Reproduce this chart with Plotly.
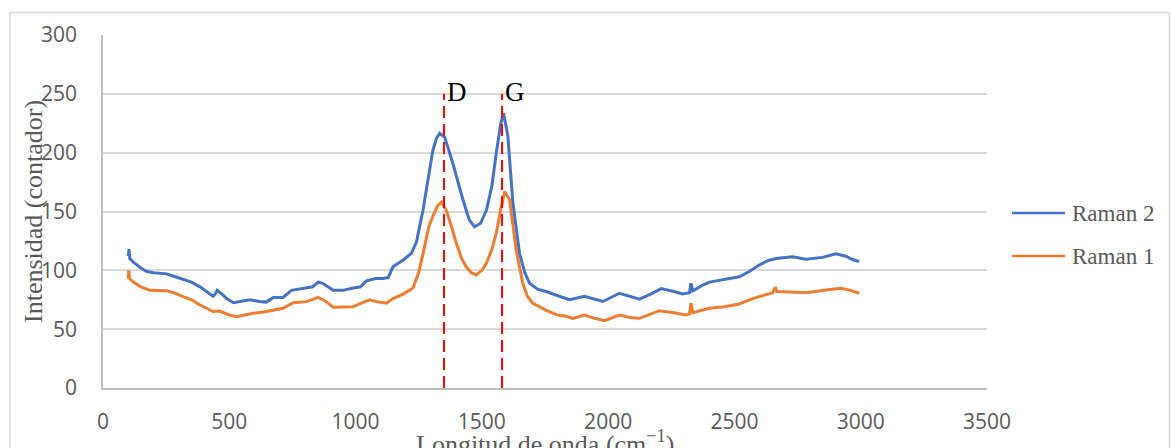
import plotly.graph_objects as go

# Raman spectra: wavenumber (cm^-1) vs. intensity (counts)
raman2_x = [100, 103, 106, 120, 150, 173, 200, 252, 280, 318, 350, 384, 410, 436, 445,
            452, 470, 490, 516, 550, 581, 620, 647, 674, 713, 746, 780, 806, 830, 852,
            870, 911, 950, 990, 1020, 1043, 1080, 1109, 1130, 1148, 1190, 1221, 1241, 1267,
            1290, 1306, 1320, 1333, 1353, 1385, 1425, 1450, 1471, 1495, 1518, 1540, 1557,
            1575, 1586, 1603, 1623, 1649, 1670, 1689, 1720, 1755, 1807, 1847, 1906, 1950,
            1979, 2045, 2085, 2124, 2170, 2210, 2260, 2295, 2322, 2328, 2335, 2370, 2401,
            2460, 2519, 2559, 2598, 2630, 2664, 2730, 2783, 2849, 2902, 2941, 2970, 2994]
raman2_y = [112, 118, 110, 107, 102, 99, 98, 97, 95, 92, 90, 86, 82, 78, 80,
            83, 80, 76, 72.5, 74, 75, 73.5, 73, 77, 77, 83, 84, 85, 86, 90,
            89, 83, 83, 85, 86, 91, 93, 93, 94, 103, 109, 114.5, 124, 151,
            182, 202, 212, 216.5, 213, 191, 160, 143, 137, 140, 151, 172, 199.5,
            225, 233.5, 214, 157, 114.5, 98, 89, 84, 82, 78, 75, 78, 75,
            73.5, 80.5, 78, 75.5, 80, 84.5, 82, 80, 81, 89, 82.5, 87, 90,
            92, 94.5, 99, 104.5, 108, 110, 111.5, 109.5, 111, 114, 112, 109, 107.5]

raman1_x = [100, 102, 105, 120, 150, 186, 252, 280, 318, 350, 384, 410, 436, 462, 500,
            529, 560, 594, 647, 713, 753, 806, 852, 880, 911, 950, 990, 1020, 1056, 1090,
            1122, 1148, 1190, 1227, 1250, 1267, 1290, 1306, 1325, 1340, 1359, 1380, 1399,
            1420, 1438, 1458, 1478, 1500, 1518, 1540, 1557, 1575, 1590, 1610, 1636, 1662,
            1680, 1702, 1755, 1800, 1834, 1860, 1906, 1950, 1985, 2045, 2085, 2124, 2160,
            2203, 2260, 2308, 2322, 2328, 2335, 2370, 2401, 2460, 2519, 2572, 2651, 2662,
            2668, 2720, 2783, 2862, 2921, 2960, 2994]
raman1_y = [93, 100, 93, 90, 86, 83, 82.7, 81, 77.6, 75, 70.5, 68, 65, 65.4, 62,
            60.6, 62, 63.5, 65, 67.7, 72.5, 73.4, 77, 74, 68.6, 69, 69, 72, 75, 73,
            72, 76, 80, 85, 98, 114, 137, 146, 155, 158, 151, 137, 123,
            110, 103, 98, 96, 100, 106, 118, 131.5, 152, 167, 160, 117, 89,
            78, 72, 66, 62, 61, 59.2, 62, 59, 57.2, 62, 60, 59.2, 62,
            65.7, 64, 62, 63, 72, 64, 66, 67.7, 69, 71.4, 76, 81, 85.6,
            82, 81.5, 81, 83.3, 84.7, 83, 80.5]

# Characteristic bands
band_x = [1350, 1580]
band_labels = ["D", "G"]
band_top = 250

series_names = ["Raman 2", "Raman 1"]
series_colors = ["#4472C4", "#ED7D31"]

W, H = 1171, 448
L, R, T, B = 103, 184, 35, 60
pw, ph = W - L - R, H - T - B


def px_to_paper_x(px):
    return (px - L) / pw


def py_to_paper_y(py):
    return (H - B - py) / ph


fig = go.Figure()
for xs, ys, name, color in zip([raman2_x, raman1_x], [raman2_y, raman1_y],
                               series_names, series_colors):
    fig.add_trace(go.Scatter(x=xs, y=ys, mode="lines", name=name,
                             line=dict(color=color, width=3), showlegend=False))

shapes = []
annotations = []

# Dashed markers for D and G bands
for bx, lab in zip(band_x, band_labels):
    shapes.append(dict(type="line", xref="x", yref="y", x0=bx, x1=bx, y0=0, y1=band_top,
                       line=dict(color="#FF0000", width=2, dash="12px,6px"), layer="above"))
    annotations.append(dict(x=bx, y=band_top, xref="x", yref="y", text=lab,
                            showarrow=False, xanchor="left", yanchor="middle", xshift=1, yshift=2,
                            font=dict(family="Liberation Serif", size=27, color="#000000")))

# Outer chart frame
shapes.append(dict(type="rect", xref="paper", yref="paper",
                   x0=px_to_paper_x(10), x1=px_to_paper_x(1169.5),
                   y0=py_to_paper_y(470), y1=py_to_paper_y(12.5),
                   line=dict(color="#D9D9D9", width=1.5), fillcolor="rgba(0,0,0,0)", layer="below"))

# Legend drawn as line samples with labels
legend_py = [213, 256]
for name, color, ly in zip(series_names, series_colors, legend_py):
    shapes.append(dict(type="line", xref="paper", yref="paper",
                       x0=px_to_paper_x(1012), x1=px_to_paper_x(1065),
                       y0=py_to_paper_y(ly), y1=py_to_paper_y(ly),
                       line=dict(color=color, width=2.6)))
    annotations.append(dict(x=px_to_paper_x(1070), y=py_to_paper_y(ly), xref="paper", yref="paper",
                            text=name, showarrow=False, xanchor="left", yanchor="middle",
                            font=dict(family="Liberation Serif", size=23, color="#595959")))

# Axis titles
annotations.append(dict(x=px_to_paper_x(33), y=py_to_paper_y(212), xref="paper", yref="paper",
                        text="Intensidad (contador)", textangle=-90, showarrow=False,
                        xanchor="center", yanchor="middle",
                        font=dict(family="Liberation Serif", size=26, color="#595959")))
annotations.append(dict(x=px_to_paper_x(545), y=py_to_paper_y(424), xref="paper", yref="paper",
                        text="Longitud de onda (cm<sup>−1</sup>)", showarrow=False,
                        xanchor="center", yanchor="top",
                        font=dict(family="Liberation Serif", size=26, color="#595959")))

fig.update_layout(
    width=W, height=H,
    margin=dict(l=L, r=R, t=T, b=B, pad=0),
    paper_bgcolor="white", plot_bgcolor="white",
    shapes=shapes, annotations=annotations,
    showlegend=False,
    xaxis=dict(range=[0, 3500], dtick=500, tick0=0, showgrid=False, zeroline=False,
               showline=True, linecolor="#BFBFBF", linewidth=1.5, ticks="",
               ticklabelstandoff=14,
               tickfont=dict(family="Open Sans", size=21, color="#595959")),
    yaxis=dict(range=[0, 300], dtick=50, tick0=0, showgrid=True, gridcolor="#D9D9D9",
               gridwidth=1.5, zeroline=False, showline=True, linecolor="#BFBFBF",
               linewidth=1.5, ticks="", ticklabelstandoff=20,
               tickfont=dict(family="Open Sans", size=21, color="#595959")),
)

fig.write_html("out.html")
